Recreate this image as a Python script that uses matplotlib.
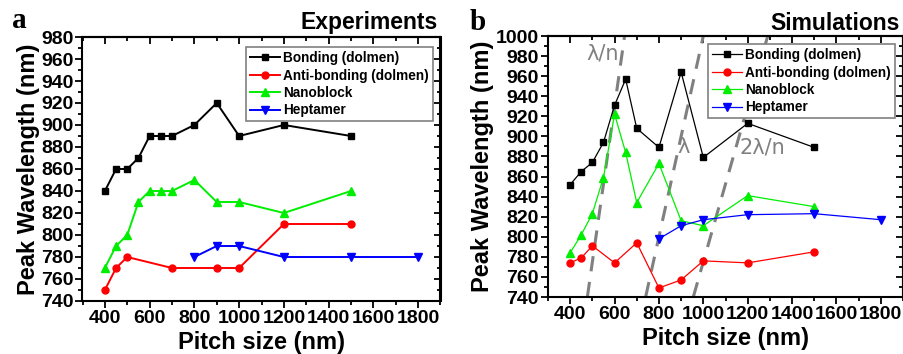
import matplotlib.pyplot as plt
from matplotlib.ticker import MultipleLocator

plt.rcParams["font.family"] = ["Liberation Sans", "DejaVu Sans"]
plt.rcParams["font.weight"] = "bold"

# panel a: experiments
exp_bonding_x = [400, 450, 500, 550, 600, 650, 700, 800, 900, 1000, 1200, 1500]
exp_bonding_y = [840, 860, 860, 870, 890, 890, 890, 900, 920, 890, 900, 890]
exp_anti_x = [400, 450, 500, 700, 900, 1000, 1200, 1500]
exp_anti_y = [750, 770, 780, 770, 770, 770, 810, 810]
exp_nano_x = [400, 450, 500, 550, 600, 650, 700, 800, 900, 1000, 1200, 1500]
exp_nano_y = [770, 790, 800, 830, 840, 840, 840, 850, 830, 830, 820, 840]
exp_hept_x = [800, 900, 1000, 1200, 1500, 1800]
exp_hept_y = [780, 790, 790, 780, 780, 780]

# panel b: simulations
sim_bonding_x = [400, 450, 500, 550, 600, 650, 700, 800, 900, 1000, 1200, 1500]
sim_bonding_y = [852, 865, 874, 894, 931, 957, 908, 889, 964, 879, 913, 889]
sim_anti_x = [400, 450, 500, 600, 700, 800, 900, 1000, 1200, 1500]
sim_anti_y = [774, 779, 791, 774, 794, 749, 757, 776, 774, 785]
sim_nano_x = [400, 450, 500, 550, 600, 650, 700, 800, 900, 1000, 1200, 1500]
sim_nano_y = [784, 802, 823, 859, 922, 884, 834, 873, 816, 811, 841, 830]
sim_hept_x = [800, 900, 1000, 1200, 1500, 1800]
sim_hept_y = [798, 811, 817, 822, 823, 817]

# guide lines: pitch = m * wavelength / n
n_eff = 1.55
guide_wavelength = [740, 1000]
guide_factors = [1 / n_eff, 1.0, 2 / n_eff]
guide_labels = ["λ/n", "λ", "2λ/n"]
guide_label_pos = [(548, 983), (912, 889), (1268, 889)]

series_names = ["Bonding (dolmen)", "Anti-bonding (dolmen)", "Nanoblock", "Heptamer"]
series_colors = ["black", "#ff0000", "#00ee00", "#0000ff"]
series_markers = ["s", "o", "^", "v"]
series_msizes = [4.8, 5.0, 5.5, 5.5]


def style_axes(ax, ymax, ystep_minor):
    ax.set_xlim(300, 1900)
    ax.set_ylim(740, ymax)
    ax.xaxis.set_major_locator(MultipleLocator(200))
    ax.xaxis.set_minor_locator(MultipleLocator(100))
    ax.yaxis.set_major_locator(MultipleLocator(20))
    ax.yaxis.set_minor_locator(MultipleLocator(ystep_minor))
    ax.tick_params(which="both", direction="out", width=1.3, labelsize=14, pad=1.5)
    ax.tick_params(which="major", length=5)
    ax.tick_params(which="minor", length=3)
    for s in ax.spines.values():
        s.set_linewidth(1.5)
    for lab in ax.get_xticklabels() + ax.get_yticklabels():
        lab.set_fontweight("bold")
    top = ax.secondary_xaxis("top")
    top.xaxis.set_major_locator(MultipleLocator(200))
    top.xaxis.set_minor_locator(MultipleLocator(100))
    top.tick_params(which="both", direction="in", width=1.3, labeltop=False)
    top.tick_params(which="major", length=5)
    top.tick_params(which="minor", length=3)
    top.spines["top"].set_linewidth(1.5)
    right = ax.secondary_yaxis("right")
    right.yaxis.set_major_locator(MultipleLocator(20))
    right.yaxis.set_minor_locator(MultipleLocator(ystep_minor))
    right.tick_params(which="both", direction="in", width=1.3, labelright=False)
    right.tick_params(which="major", length=5)
    right.tick_params(which="minor", length=3)
    right.spines["right"].set_linewidth(1.5)
    ax.set_xlabel("Pitch size (nm)", fontsize=17, fontweight="bold", labelpad=3)
    ax.set_ylabel("Peak Wavelength (nm)", fontsize=17, fontweight="bold", labelpad=1)


fig = plt.figure(figsize=(9.04, 3.54), dpi=100)

ax1 = fig.add_axes([82.5 / 904, 1 - 301 / 354, 358 / 904, 264 / 354])
exp_data = [(exp_bonding_x, exp_bonding_y), (exp_anti_x, exp_anti_y),
            (exp_nano_x, exp_nano_y), (exp_hept_x, exp_hept_y)]
for (x, y), name, c, m, ms in zip(exp_data, series_names, series_colors,
                                  series_markers, series_msizes):
    ax1.plot(x, y, color=c, marker=m, markersize=ms, linewidth=1.4, label=name)
style_axes(ax1, 980, 10)
leg = ax1.legend(loc="upper right", bbox_to_anchor=(0.978, 0.962), borderaxespad=0,
                 fancybox=False, edgecolor="#808080", framealpha=1,
                 prop={"weight": "bold", "size": 9.8}, handlelength=2.2,
                 handletextpad=0.2, labelspacing=0.25, borderpad=0.3)
leg.get_frame().set_linewidth(1.2)
leg.set_zorder(10)
fig.text(438 / 904, 1 - 23 / 354, "Experiments", ha="right", va="center",
         fontsize=16.5, fontweight="bold")
fig.text(12 / 904, 1 - 20 / 354, "a", ha="left", va="center", fontsize=21,
         fontweight="bold", family="Liberation Serif")

ax2 = fig.add_axes([548 / 904, 1 - 297 / 354, 355 / 904, 261 / 354])
for f, txt, pos in zip(guide_factors, guide_labels, guide_label_pos):
    ax2.plot([w * f for w in guide_wavelength], guide_wavelength, color="#808080",
             linewidth=2.2, linestyle=(0, (5, 3.5)), zorder=1)
    ax2.text(pos[0], pos[1], txt, color="#808080", fontsize=15, ha="center",
             va="center", fontweight="normal", family="DejaVu Sans", zorder=1)
sim_data = [(sim_bonding_x, sim_bonding_y), (sim_anti_x, sim_anti_y),
            (sim_nano_x, sim_nano_y), (sim_hept_x, sim_hept_y)]
for (x, y), name, c, m, ms in zip(sim_data, series_names, series_colors,
                                  series_markers, series_msizes):
    ax2.plot(x, y, color=c, marker=m, markersize=ms, linewidth=0.9, label=name, zorder=3)
style_axes(ax2, 1000, 10)
leg = ax2.legend(loc="upper right", bbox_to_anchor=(0.977, 0.969), borderaxespad=0,
                 fancybox=False, edgecolor="#808080", framealpha=1,
                 prop={"weight": "bold", "size": 9.8}, handlelength=2.2,
                 handletextpad=0.2, labelspacing=0.25, borderpad=0.3)
leg.get_frame().set_linewidth(1.2)
leg.set_zorder(10)
fig.text(900 / 904, 1 - 23 / 354, "Simulations", ha="right", va="center",
         fontsize=16.5, fontweight="bold")
fig.text(470 / 904, 1 - 22 / 354, "b", ha="left", va="center", fontsize=21,
         fontweight="bold", family="Liberation Serif")

fig.savefig("out.png", dpi=100)
